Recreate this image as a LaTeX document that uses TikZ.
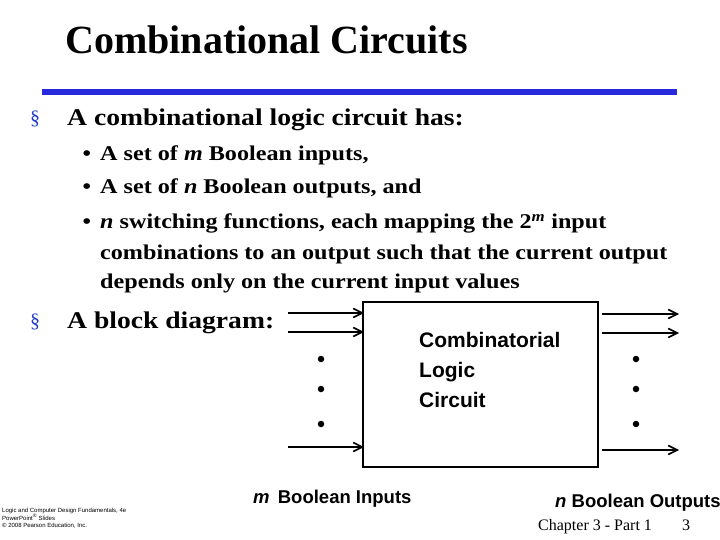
\documentclass[tikz,border=0pt]{standalone}
\usepackage{fontspec}
\setmainfont{Liberation Serif}
\setsansfont{Liberation Sans}
\newfontfamily\widefont[FakeStretch=1.15]{Liberation Serif}
\usetikzlibrary{arrows.meta}
\definecolor{rulecol}{RGB}{40,40,220}
\definecolor{seccol}{RGB}{30,60,200}
\tikzstyle{wire}=[line width=1.6pt, -{Straight Barb[length=9pt,width=9pt,line width=1.6pt]}]
\tikzstyle{txt}=[anchor=base west, inner sep=0pt]
\tikzstyle{dot}=[circle, fill, inner sep=0pt, minimum size=6.5pt]
\begin{document}
\begin{tikzpicture}[x=1pt, y=-1pt]
    \useasboundingbox (0,0) rectangle (720,540);
    \node[txt, font=\fontsize{40}{44}\selectfont\bfseries] (title) at (65,54) {Combinational Circuits};
    \fill[rulecol] (42,89) rectangle (677,95);
    % main points
    \node[txt, font=\fontsize{20}{22}\selectfont, text=seccol] (s1) at (30,125) {§};
    \node[txt, font=\widefont\fontsize{24}{27}\selectfont\bfseries] (p1) at (67,126) {A combinational logic circuit has:};
    \node[txt, font=\fontsize{20}{22}\selectfont, text=seccol] (s2) at (30,327) {§};
    \node[txt, font=\widefont\fontsize{24}{27}\selectfont\bfseries] (p2) at (67,328) {A block diagram:};
    % sub points
    \foreach \y/\t [count=\i] in {161/{A set of \textit{m} Boolean inputs,},
                                  194/{A set of \textit{n} Boolean outputs, and},
                                  229/{\textit{n} switching functions, each mapping the 2\textsuperscript{\textit{m}} input}}
        \node[txt, font=\widefont\fontsize{21}{24}\selectfont\bfseries] (b\i) at (100,\y) {\llap{•\hspace{9pt}}\t};
    \node[txt, font=\widefont\fontsize{21}{24}\selectfont\bfseries] (b4) at (100,259) {combinations to an output such that the current output};
    \node[txt, font=\widefont\fontsize{21}{24}\selectfont\bfseries] (b5) at (100,288) {depends only on the current input values};
    % block
    \draw[line width=2pt] (363,302) rectangle (598,467);
    \node[txt, font=\sffamily\fontsize{21}{24}\selectfont\bfseries] (c1) at (419,347) {Combinatorial};
    \node[txt, font=\sffamily\fontsize{21}{24}\selectfont\bfseries] (c2) at (419,377) {Logic};
    \node[txt, font=\sffamily\fontsize{21}{24}\selectfont\bfseries] (c3) at (419,407) {Circuit};
    \foreach \y [count=\i] in {313,332,447} {
        \coordinate (in\i) at (288,\y);
        \coordinate (ie\i) at (364,\y);
        \draw[wire] (in\i) -- (ie\i);
    }
    \foreach \y [count=\i] in {314,333,450} {
        \coordinate (os\i) at (602,\y);
        \coordinate (out\i) at (679,\y);
        \draw[wire] (os\i) -- (out\i);
    }
    \foreach \y [count=\i] in {359,389,424} {
        \node[dot] (di\i) at (321,\y) {};
        \node[dot] (do\i) at (636,\y) {};
    }
    \node[txt, font=\sffamily\fontsize{18.5}{21}\selectfont\bfseries] (min) at (253,503) {\textit{m}\, Boolean Inputs};
    \node[txt, font=\sffamily\fontsize{18.5}{21}\selectfont\bfseries] (nout) at (555,507) {\textit{n} Boolean Outputs};
    % footer
    \node[txt, font=\sffamily\fontsize{6}{7.5}\selectfont, align=left, anchor=north west] (foot) at (2,508) {Logic and Computer Design Fundamentals, 4e\\PowerPoint\textsuperscript{®} Slides\\© 2008 Pearson Education, Inc.};
    \node[txt, font=\fontsize{16}{18}\selectfont] (chap) at (538,530) {Chapter 3 - Part 1};
    \node[txt, font=\fontsize{16}{18}\selectfont] (page) at (682,530) {3};
\end{tikzpicture}
\end{document}
